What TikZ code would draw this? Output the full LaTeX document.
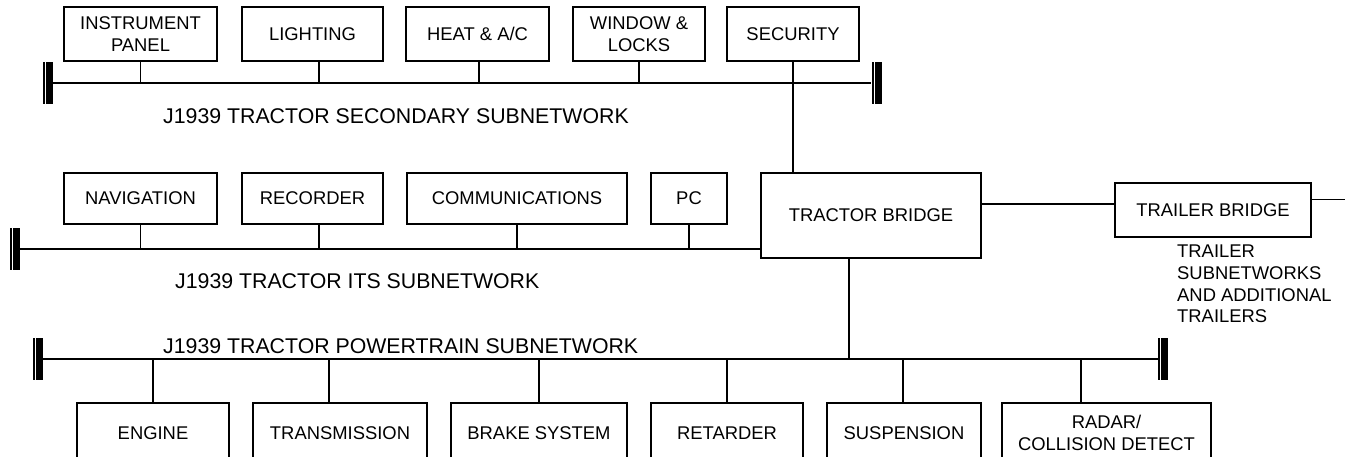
\documentclass[tikz,border=0pt]{standalone}
\usepackage{fontspec}
\setmainfont{Liberation Sans}
\usetikzlibrary{calc}

\begin{document}
\begin{tikzpicture}[x=1pt,y=1pt,yscale=-1,xscale=1,
  font=\fontsize{18.4}{21.7}\selectfont,
  unit/.style={draw, line width=1.2pt, inner sep=0pt, align=center},
  wire/.style={line width=1.2pt},
  busname/.style={anchor=base west, inner sep=0pt, font=\fontsize{21.3}{25}\selectfont},
  endcap/.style={fill=black, inner sep=0pt, minimum width=10, minimum height=42,
    path picture={\draw [white, line width=0.8pt] ($(path picture bounding box.south west)+(2.6,-2.5)$) |- ($(path picture bounding box.north east)+(-3,2.5)$);}}]
\useasboundingbox (0,0) rectangle (1351,456);
\clip (0,0) rectangle (1351,456);

%Shape: Rectangle (secondary subnetwork units)
\draw (140.5,34) node (ip) [unit, minimum width=153, minimum height=54] {INSTRUMENT\\PANEL};
\draw (312.5,34) node (light) [unit, minimum width=141, minimum height=54] {LIGHTING};
\draw (477.5,34) node (heat) [unit, minimum width=143, minimum height=54] {HEAT \& A/C};
\draw (639,34) node (win) [unit, minimum width=132, minimum height=54] {WINDOW \&\\LOCKS};
\draw (793,34) node (sec) [unit, minimum width=132, minimum height=54] {SECURITY};

%Shape: Rectangle (ITS subnetwork units)
\draw (140.5,198.5) node (nav) [unit, minimum width=153, minimum height=51] {NAVIGATION};
\draw (312.5,198.5) node (rec) [unit, minimum width=141, minimum height=51] {RECORDER};
\draw (517,198.5) node (comm) [unit, minimum width=220, minimum height=51] {COMMUNICATIONS};
\draw (689,198.5) node (pc) [unit, minimum width=76, minimum height=51] {PC};

%Shape: Rectangle (bridges)
\draw (871,215.5) node (tb) [unit, minimum width=220, minimum height=85] {TRACTOR BRIDGE};
\draw (1213,210) node (trl) [unit, minimum width=196, minimum height=54] {TRAILER BRIDGE};

%Shape: Rectangle (powertrain units)
\draw (153,433) node (eng) [unit, minimum width=152, minimum height=60] {ENGINE};
\draw (340,433) node (trans) [unit, minimum width=174, minimum height=60] {TRANSMISSION};
\draw (539,433) node (brake) [unit, minimum width=176, minimum height=60] {BRAKE SYSTEM};
\draw (727,433) node (ret) [unit, minimum width=152, minimum height=60] {RETARDER};
\draw (904,433) node (susp) [unit, minimum width=154, minimum height=60] {SUSPENSION};
\draw (1106.5,433) node (radar) [unit, minimum width=209, minimum height=60] {RADAR/\\COLLISION DETECT};

%Shape: Terminators
\draw (48,83) node (secL) [endcap] {};
\draw (876.5,83) node (secR) [endcap] {};
\draw (15,249) node (itsL) [endcap] {};
\draw (37.5,359) node (ptL) [endcap] {};
\draw (1163,359) node (ptR) [endcap] {};

%Shape: Bus lines
\draw [wire] (secL.east) -- (secR.west);
\draw [wire] (itsL.east) -- (itsL.east -| tb.west);
\draw [wire] (ptL.east) -- (ptR.west);

%Straight Lines: drops to secondary bus
\draw [wire] (ip.south) -- (ip.south |- secL);
\draw [wire] ([xshift=6.5]light.south) -- ([xshift=6.5]light.south |- secL);
\draw [wire] ([xshift=1.5]heat.south) -- ([xshift=1.5]heat.south |- secL);
\draw [wire] (win.south) -- (win.south |- secL);
\draw [wire] (sec.south) -- (sec.south |- tb.north);

%Straight Lines: drops to ITS bus
\draw [wire] (nav.south) -- (nav.south |- itsL);
\draw [wire] ([xshift=6.5]rec.south) -- ([xshift=6.5]rec.south |- itsL);
\draw [wire] (comm.south) -- (comm.south |- itsL);
\draw [wire] (pc.south) -- (pc.south |- itsL);

%Straight Lines: drops to powertrain bus
\draw [wire] ([xshift=-22]tb.south) -- ([xshift=-22]tb.south |- ptL);
\draw [wire] (eng.north) -- (eng.north |- ptL);
\draw [wire] ([xshift=-11]trans.north) -- ([xshift=-11]trans.north |- ptL);
\draw [wire] (brake.north) -- (brake.north |- ptL);
\draw [wire] (ret.north) -- (ret.north |- ptL);
\draw [wire] ([xshift=-1]susp.north) -- ([xshift=-1]susp.north |- ptL);
\draw [wire] ([xshift=-25.5]radar.north) -- ([xshift=-25.5]radar.north |- ptL);

%Straight Lines: bridge links
\coordinate (tlink) at (1048,204);
\coordinate (tout) at (1345,199);
\draw [wire] (tb.east |- tlink) -- (trl.west |- tlink);
\draw [line width=0.8pt] (trl.east |- tout) -- (tout);

% Text Node
\draw (163,123) node (seclbl) [busname] {J1939 TRACTOR SECONDARY SUBNETWORK};
% Text Node
\draw (175,288) node (itslbl) [busname] {J1939 TRACTOR ITS SUBNETWORK};
% Text Node
\draw (163,353) node (ptlbl) [busname] {J1939 TRACTOR POWERTRAIN SUBNETWORK};
% Text Node
\draw (1177,245) node (trltxt) [anchor=north west, inner sep=0pt, align=left] {TRAILER\\SUBNETWORKS\\AND ADDITIONAL\\TRAILERS};

\end{tikzpicture}
\end{document}
